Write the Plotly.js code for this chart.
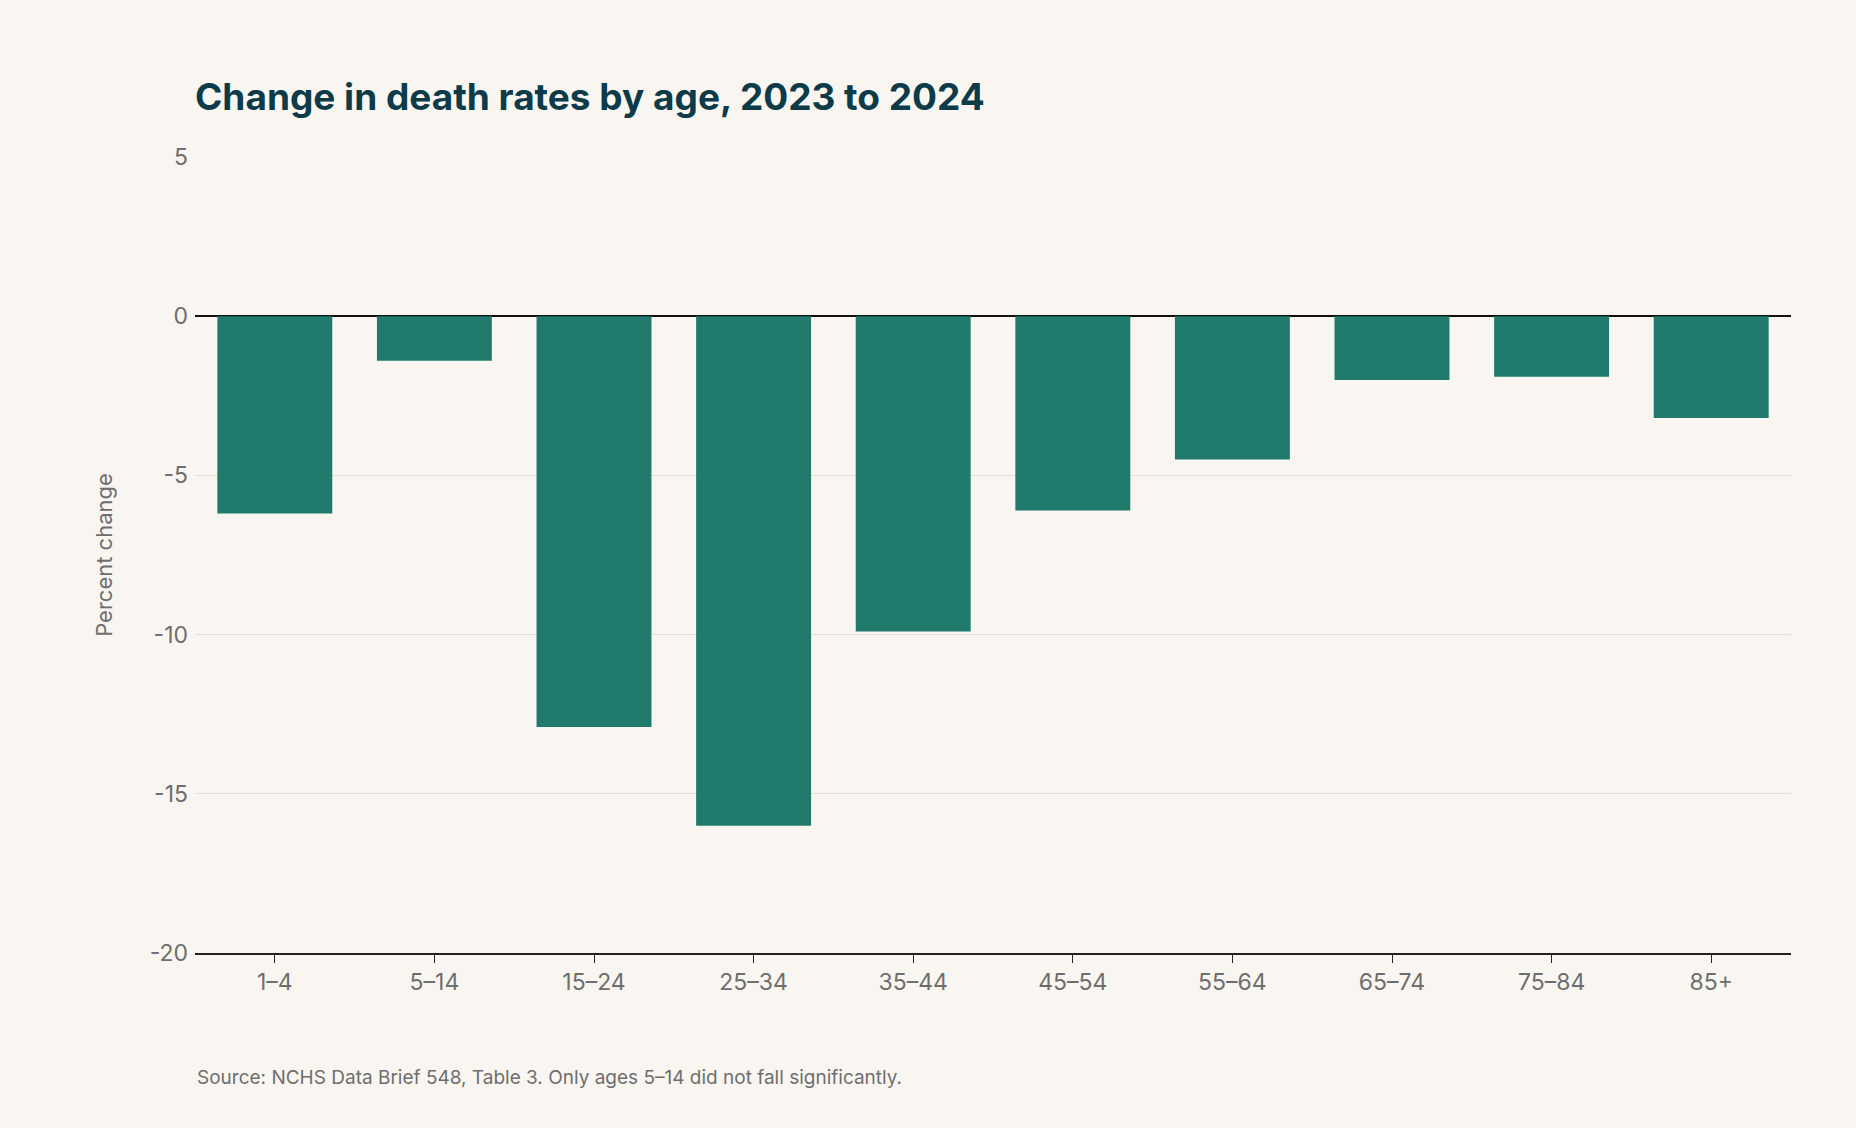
<!DOCTYPE html>
<html>
<head>
<meta charset="utf-8">
<script src="https://cdn.plot.ly/plotly-3.0.1.min.js"></script>
<style>
  html, body { margin: 0; padding: 0; background: #f9f6f1; }
  #chart { width: 1856px; height: 1128px; }
</style>
</head>
<body>
<div id="chart"></div>
<script>
const ageGroups = ["1–4", "5–14", "15–24", "25–34", "35–44", "45–54", "55–64", "65–74", "75–84", "85+"];
const percentChange = [-6.2, -1.4, -12.9, -16.0, -9.9, -6.1, -4.5, -2.0, -1.9, -3.2];
const yTicks = [5, 0, -5, -10, -15, -20];

const font = "Inter, 'Noto Sans', sans-serif";

Plotly.newPlot("chart", [
  {
    type: "bar",
    x: ageGroups,
    y: percentChange,
    marker: { color: "#1f7a6b" },
    hoverinfo: "x+y"
  }
], {
  width: 1856,
  height: 1128,
  paper_bgcolor: "#f9f6f1",
  plot_bgcolor: "#f9f6f1",
  margin: { l: 195, r: 65, t: 157, b: 175 },
  bargap: 0.28,
  showlegend: false,
  font: { family: font, color: "#6e6e6e" },
  title: {
    text: "<b>Change in death rates by age, 2023 to 2024</b>",
    x: 195 / 1856, xanchor: "left",
    y: 1 - 97 / 1128, yanchor: "middle",
    font: { family: font, size: 37, color: "#0d3b4a" }
  },
  xaxis: {
    showgrid: false,
    showline: true,
    linecolor: "#222",
    linewidth: 1.5,
    ticks: "outside",
    ticklen: 8,
    tickcolor: "#222",
    tickfont: { size: 23, color: "#6e6e6e" }
  },
  yaxis: {
    range: [-20, 5],
    tickvals: yTicks,
    ticktext: yTicks.map(String),
    gridcolor: "#e2ded8",
    zeroline: true,
    zerolinecolor: "#111",
    zerolinewidth: 2,
    tickfont: { size: 23, color: "#6e6e6e" },
    ticklabelstandoff: 6,
    title: { text: "Percent change", font: { size: 22, color: "#6e6e6e" }, standoff: 30 }
  },
  annotations: [
    {
      text: "Source: NCHS Data Brief 548, Table 3. Only ages 5–14 did not fall significantly.",
      xref: "paper", yref: "paper",
      x: 0, y: -(1077 - 953) / 796,
      xanchor: "left", yanchor: "middle",
      showarrow: false,
      font: { size: 19, color: "#6e6e6e" }
    }
  ]
}, { displayModeBar: false });
</script>
</body>
</html>
